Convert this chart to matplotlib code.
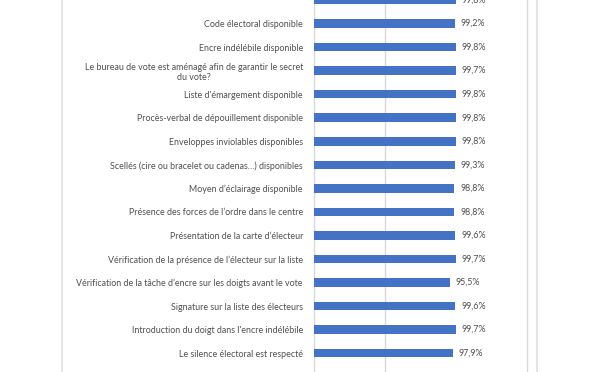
import matplotlib
matplotlib.use('Agg')
import matplotlib.pyplot as plt
from matplotlib.lines import Line2D

# data (first row is cut off at the top)
labels = [
    '',
    'Code électoral disponible',
    'Encre indélébile disponible',
    'Le bureau de vote est aménagé afin de garantir le secret\ndu vote?',
    "Liste d'émargement disponible",
    'Procès-verbal de dépouillement disponible',
    'Enveloppes inviolables disponibles',
    'Scellés (cire ou bracelet ou cadenas…) disponibles',
    'Moyen d’éclairage disponible',
    'Présence des forces de l’ordre dans le centre',
    'Présentation de la carte d’électeur',
    'Vérification de la présence de l’électeur sur la liste',
    'Vérification de la tâche d’encre sur les doigts avant le vote',
    'Signature sur la liste des électeurs',
    "Introduction du doigt dans l'encre indélébile",
    'Le silence électoral est respecté',
]
values = [99.8, 99.2, 99.8, 99.7, 99.8, 99.8, 99.8, 99.3, 98.8, 98.8,
          99.6, 99.7, 95.5, 99.6, 99.7, 97.9]

W, H = 600, 372
plt.rcParams['font.family'] = ['Lato', 'DejaVu Sans']
fig = plt.figure(figsize=(W / 100, H / 100), dpi=100)
fig.patch.set_facecolor('white')

# axes: x from 314px to 527px, rows every ~23.85px
ax = fig.add_axes([314 / W, 0, 213 / W, 1])
pos = list(range(len(labels)))
ax.barh(pos, values, height=0.36, color='#4472C4', zorder=3)
ax.set_xlim(0, 150)
ax.set_ylim(15.80, 0.21)

ax.axvline(50, color='#d9d9d9', lw=1, zorder=1)
for s in ['top', 'bottom']:
    ax.spines[s].set_visible(False)
for s in ['left', 'right']:
    ax.spines[s].set_color('#d9d9d9')
    ax.spines[s].set_linewidth(1)
ax.set_xticks([])
ax.set_yticks(pos)
ax.set_yticklabels(labels, fontsize=6.4, color='#505050', multialignment='center')
ax.tick_params(axis='y', length=0, pad=8)

for p, v in zip(pos, values):
    ax.text(v + 4.2, p, ('%.1f%%' % v).replace('.', ','), va='center', ha='left',
            fontsize=6.4, color='#505050')

# card border lines
fig.add_artist(Line2D([62 / W, 62 / W], [0, 1], color='#e0e0e0', lw=1.2))
fig.add_artist(Line2D([537 / W, 537 / W], [0, 1], color='#e0e0e0', lw=1.2))

fig.savefig('out.png', dpi=100)
